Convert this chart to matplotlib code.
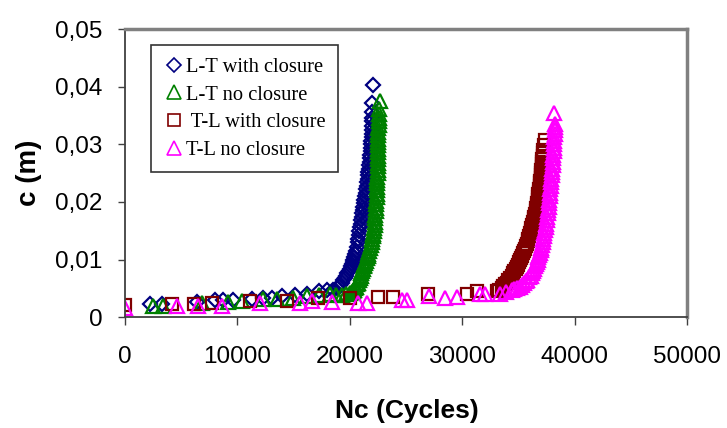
import matplotlib
matplotlib.use("Agg")
import matplotlib.pyplot as plt
from matplotlib.lines import Line2D
from matplotlib.ticker import FuncFormatter

# ------------------ Data ------------------

# L-T with closure
lt_wc_n = [2200, 3300, 6400, 8000, 8700, 9600, 11300, 12300, 13100, 14000,
           15100, 16200, 17300, 18000,
           18500, 18850, 19000, 19150, 19280, 19400, 19530, 19650, 19780,
           19900, 20000, 20100, 20180, 20250, 20320, 20400, 20480, 20550,
           20630, 20700, 20750, 20800, 20850, 20900, 20950, 21000, 21050,
           21100, 21150, 21200, 21250, 21300, 21350, 21400, 21450, 21500,
           21540, 21580, 21610, 21650, 21690, 21720, 21760, 21800, 21820,
           21850, 21870, 21900, 21910, 21930, 21940, 21950, 21960, 21970,
           21980, 22000, 21960, 22090]
lt_wc_c = [0.0022, 0.0022, 0.0027, 0.0029, 0.0029, 0.0030, 0.0032, 0.0033,
           0.0034, 0.0036, 0.0039, 0.0041, 0.0045, 0.0047,
           0.0047, 0.0050, 0.0053, 0.0056, 0.0060, 0.0064, 0.0068, 0.0072,
           0.0076, 0.0080, 0.0084, 0.0088, 0.0092, 0.0096, 0.0100, 0.0105,
           0.0110, 0.0115, 0.0122, 0.0130, 0.0136, 0.0143, 0.0150, 0.0156,
           0.0162, 0.0168, 0.0174, 0.0180, 0.0186, 0.0192, 0.0198, 0.0204,
           0.0210, 0.0216, 0.0222, 0.0228, 0.0234, 0.0240, 0.0246, 0.0252,
           0.0258, 0.0264, 0.0270, 0.0276, 0.0282, 0.0288, 0.0294, 0.0300,
           0.0306, 0.0312, 0.0318, 0.0325, 0.0332, 0.0340, 0.0346, 0.0356,
           0.0372, 0.0403]

# L-T no closure
lt_nc_n = [2500, 3400, 6850, 9200, 10400, 12300, 13500, 14900, 16200, 17300,
           18200, 18800, 19300, 19700, 20000,
           20150, 20300, 20400, 20500, 20580, 20650, 20720, 20800, 20870,
           20950, 21030, 21100, 21180, 21250, 21300, 21350, 21420, 21500,
           21580, 21650, 21720, 21800, 21870, 21950, 22000, 22050, 22090,
           22130, 22170, 22200, 22230, 22250, 22280, 22300, 22320, 22340,
           22360, 22380, 22400, 22410, 22430, 22440, 22450, 22460, 22470,
           22480, 22490, 22500, 22505, 22510, 22515, 22520, 22525, 22530,
           22535, 22540, 22545, 22550, 22555, 22560, 22570, 22580, 22600,
           22700]
lt_nc_c = [0.0020, 0.0020, 0.0024, 0.0027, 0.0028, 0.0031, 0.0032, 0.0034,
           0.0037, 0.0039, 0.0040, 0.0038, 0.0039, 0.0040, 0.0042,
           0.0043, 0.0045, 0.0047, 0.0050, 0.0053, 0.0057, 0.0060, 0.0064,
           0.0068, 0.0072, 0.0076, 0.0080, 0.0084, 0.0088, 0.0091, 0.0094,
           0.0098, 0.0102, 0.0106, 0.0110, 0.0115, 0.0120, 0.0125, 0.0130,
           0.0135, 0.0140, 0.0145, 0.0150, 0.0155, 0.0160, 0.0166, 0.0172,
           0.0178, 0.0184, 0.0190, 0.0196, 0.0202, 0.0208, 0.0214, 0.0220,
           0.0226, 0.0232, 0.0238, 0.0244, 0.0250, 0.0256, 0.0262, 0.0268,
           0.0274, 0.0280, 0.0286, 0.0292, 0.0298, 0.0304, 0.0310, 0.0316,
           0.0322, 0.0328, 0.0334, 0.0340, 0.0346, 0.0352, 0.0362, 0.0375]

# T-L with closure
tl_wc_n = [0, 4200, 6100, 7700, 11100, 14400, 17200, 20000, 22500, 23850,
           26950, 30400, 31300, 33100,
           33300, 33500, 33650, 33800, 33950, 34100, 34250, 34400, 34520,
           34650, 34750, 34850, 34950, 35050, 35150, 35250, 35350, 35450,
           35520, 35600, 35680, 35750, 35820, 35880, 35940, 36000, 36080,
           36150, 36220, 36300, 36360, 36420, 36480, 36540, 36590, 36640,
           36670, 36700, 36740, 36780, 36820, 36850, 36890, 36920, 36950,
           36980, 37000, 37030, 37050, 37070, 37090, 37110, 37130, 37160,
           37180, 37200, 37250, 37370]
tl_wc_c = [0.0021, 0.0023, 0.0023, 0.0024, 0.0028, 0.0028, 0.0033, 0.0033,
           0.0035, 0.0035, 0.0040, 0.0040, 0.0045, 0.0045,
           0.0047, 0.0050, 0.0054, 0.0057, 0.0060, 0.0064, 0.0068, 0.0072,
           0.0076, 0.0080, 0.0084, 0.0087, 0.0091, 0.0095, 0.0099, 0.0103,
           0.0107, 0.0111, 0.0115, 0.0118, 0.0123, 0.0127, 0.0132, 0.0136,
           0.0141, 0.0146, 0.0150, 0.0155, 0.0160, 0.0165, 0.0170, 0.0174,
           0.0179, 0.0184, 0.0189, 0.0194, 0.0198, 0.0203, 0.0208, 0.0213,
           0.0218, 0.0223, 0.0228, 0.0232, 0.0237, 0.0242, 0.0246, 0.0251,
           0.0256, 0.0260, 0.0265, 0.0270, 0.0275, 0.0280, 0.0285, 0.0290,
           0.0298, 0.0307]

# T-L no closure
tl_nc_n = [0, 4600, 6500, 8600, 12000, 15600, 16600, 18400, 20700, 21500,
           24600, 25100, 27000, 28500, 29500, 31600, 32000, 33400,
           33900, 34400, 34650, 34900, 35100, 35300, 35480, 35650, 35800,
           35950, 36080, 36200, 36300, 36400, 36480, 36550, 36620, 36700,
           36780, 36850, 36910, 36970, 37040, 37100, 37160, 37220, 37270,
           37320, 37370, 37420, 37470, 37520, 37560, 37600, 37640, 37680,
           37720, 37750, 37790, 37820, 37850, 37880, 37910, 37940, 37970,
           37990, 38020, 38040, 38070, 38090, 38110, 38130, 38150, 38170,
           38190, 38200, 38220, 38230, 38240, 38250, 38200]
tl_nc_c = [0.0016, 0.0019, 0.0019, 0.0019, 0.0024, 0.0024, 0.0028, 0.0027,
           0.0025, 0.0025, 0.0030, 0.0030, 0.0036, 0.0033, 0.0035, 0.0040,
           0.0040, 0.0040,
           0.0043, 0.0047, 0.0049, 0.0051, 0.0053, 0.0056, 0.0059, 0.0062,
           0.0065, 0.0069, 0.0072, 0.0076, 0.0080, 0.0084, 0.0088, 0.0092,
           0.0096, 0.0100, 0.0104, 0.0108, 0.0112, 0.0116, 0.0120, 0.0125,
           0.0130, 0.0135, 0.0140, 0.0146, 0.0151, 0.0157, 0.0162, 0.0168,
           0.0174, 0.0180, 0.0186, 0.0192, 0.0198, 0.0204, 0.0210, 0.0216,
           0.0222, 0.0228, 0.0234, 0.0240, 0.0246, 0.0252, 0.0258, 0.0264,
           0.0270, 0.0276, 0.0282, 0.0288, 0.0294, 0.0300, 0.0306, 0.0312,
           0.0318, 0.0324, 0.0330, 0.0336, 0.0354]

series = [
    ("L-T with closure", lt_wc_n, lt_wc_c, "D", "#000080", 7.5),
    ("L-T no closure", lt_nc_n, lt_nc_c, "^", "#008000", 10.5),
    (" T-L with closure", tl_wc_n, tl_wc_c, "s", "#800000", 8.5),
    ("T-L no closure", tl_nc_n, tl_nc_c, "^", "#FF00FF", 10.5),
]

x_ticks = [0, 10000, 20000, 30000, 40000, 50000]
y_ticks = [0, 0.01, 0.02, 0.03, 0.04, 0.05]

# ------------------ Plot ------------------

fig = plt.figure(figsize=(7.27, 4.28), dpi=100)
ax = fig.add_axes([0.172, 0.259, 0.773, 0.673])

handles = []
for label, n, c, mk, col, ms in series:
    ax.plot(n, c, linestyle="none", marker=mk, markersize=ms,
            markerfacecolor="none", markeredgecolor=col, markeredgewidth=1.6)
    handles.append(Line2D([], [], linestyle="none", marker=mk,
                          markersize=ms * 0.95, markerfacecolor="none",
                          markeredgecolor=col, markeredgewidth=1.2,
                          label=label))

ax.set_xlim(0, 50000)
ax.set_ylim(0, 0.05)
ax.set_xticks(x_ticks)
ax.set_yticks(y_ticks)
ax.yaxis.set_major_formatter(FuncFormatter(
    lambda v, p: "0" if v == 0 else f"{v:.2f}".replace(".", ",")))

for t in ax.get_xticklabels() + ax.get_yticklabels():
    t.set_fontfamily("Liberation Sans")
    t.set_fontsize(17.5)
ax.tick_params(axis="y", direction="out", length=5, width=1, pad=11)
ax.tick_params(axis="x", direction="out", length=6, width=1, pad=15)
ax.tick_params(axis="both", color="#404040")

for side in ("left", "bottom"):
    ax.spines[side].set_color("#404040")
    ax.spines[side].set_linewidth(1.3)
for side in ("top", "right"):
    ax.spines[side].set_color("#808080")
    ax.spines[side].set_linewidth(2.5)

ax.set_xlabel("Nc (Cycles)", fontfamily="Liberation Sans", fontsize=19,
              fontweight="bold")
ax.xaxis.label.set_va("center")
ax.xaxis.set_label_coords(0.502, -0.325)
ax.set_ylabel("c (m)", fontfamily="Liberation Sans", fontsize=20,
              fontweight="bold")
ax.yaxis.label.set_va("center")
ax.yaxis.set_label_coords(-0.171, 0.5)

leg = ax.legend(handles=handles, loc="upper left",
                bbox_to_anchor=(0.046, 0.944), borderaxespad=0,
                prop={"family": "Liberation Serif", "size": 14.8},
                frameon=True, fancybox=False, edgecolor="black",
                handlelength=1.0, handletextpad=0.12, labelspacing=0.4,
                borderpad=0.6)
leg.get_frame().set_linewidth(1.2)

fig.savefig("out.png", dpi=100)
